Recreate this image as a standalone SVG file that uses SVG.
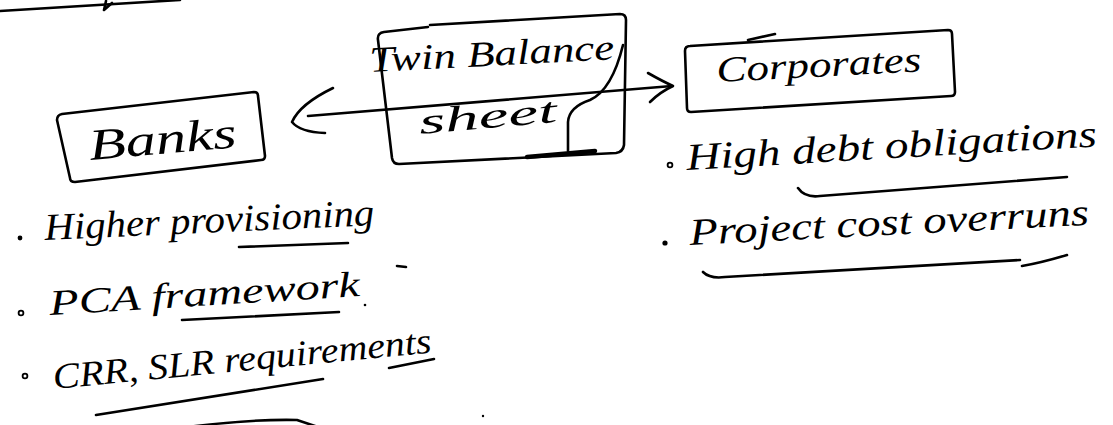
<svg xmlns="http://www.w3.org/2000/svg" width="1113" height="425" viewBox="0 0 1113 425">
  <style>
    .ink { fill: none; stroke: #000; stroke-width: 2.6; stroke-linecap: round; stroke-linejoin: round; }
    .heavy { stroke-width: 4.5; }
    .hand { font-family: "Liberation Serif", "DejaVu Serif", serif; font-style: italic; fill: #000; }
    .dot { fill: #000; }
    .ring { fill: none; stroke: #000; stroke-width: 1.8; }
  </style>
  <rect width="1113" height="425" fill="#fff"/>

  <!-- stroke cut off at the top edge -->
  <g id="top-stroke">
    <path class="ink" d="M0,11 L180,0"/>
    <path class="ink" d="M106,1 L104,10 L112,3"/>
  </g>

  <!-- connectors: double-headed arrow through the centre box -->
  <g id="connectors">
    <path class="ink" d="M308,116 L672,86"/>
    <path class="ink" d="M333,88 Q300,104 292,122 Q300,132 325,133"/>
    <path class="ink" d="M648,73 Q662,81 673,86 Q660,92 650,102"/>
  </g>

  <g id="banks">
    <path class="ink" d="M62,114 L254,92 Q258,92 258,96 L265,156 Q265,160 261,160 L75,182 Q70,182 70,178 L57,120 Q57,115 62,114 Z"/>
    <text class="hand" x="90" y="160" font-size="44" textLength="148" lengthAdjust="spacingAndGlyphs" transform="rotate(-5 90 160)">Banks</text>
  </g>

  <g id="twin-balance-sheet">
    <path class="ink" d="M384,32 L428,27 M430,25 L620,14 Q626,14 626,20 L624,145 Q623,152 616,153 L399,164 Q393,164 392,158 L378,40 Q377,33 384,32"/>
    <path class="ink heavy" d="M527,157 L595,151"/>
    <path class="ink" d="M568,151 L568,122 Q569,107 590,100 Q612,90 623,45"/>
    <text class="hand" x="370" y="72" font-size="36" textLength="245" lengthAdjust="spacingAndGlyphs" transform="rotate(-3 370 72)">Twin Balance</text>
    <text class="hand" x="420" y="134" font-size="36" textLength="138" lengthAdjust="spacingAndGlyphs" transform="rotate(-5 420 134)">sheet</text>
  </g>

  <g id="corporates">
    <path class="ink" d="M690,46 L948,30 Q952,30 952,34 L955,92 Q955,96 951,96 L691,112 Q687,112 687,108 L685,51 Q685,46 690,46 Z"/>
    <path class="ink" d="M748,40 L775,34"/>
    <text class="hand" x="717" y="82" font-size="36" textLength="205" lengthAdjust="spacingAndGlyphs" transform="rotate(-3 717 82)">Corporates</text>
  </g>

  <g id="banks-points">
    <circle class="dot" cx="20" cy="238" r="2.4"/>
    <text class="hand" x="45" y="240" font-size="38" textLength="330" lengthAdjust="spacingAndGlyphs" transform="rotate(-2.6 45 240)">Higher provisioning</text>
    <path class="ink" d="M239,247 L348,243"/>

    <circle class="ring" cx="21" cy="313" r="2.4"/>
    <text class="hand" x="50" y="315" font-size="36" textLength="311" lengthAdjust="spacingAndGlyphs" transform="rotate(-3.5 50 315)">PCA framework</text>
    <path class="ink" d="M182,320 L339,312"/>
    <circle class="dot" cx="365" cy="305" r="1.3"/>
    <path class="ink" d="M397,266 L406,267" stroke-width="1.5"/>

    <circle class="ring" cx="25" cy="376" r="2.4"/>
    <text class="hand" x="54" y="389" font-size="36" textLength="380" lengthAdjust="spacingAndGlyphs" transform="rotate(-5.5 54 389)">CRR, SLR requirements</text>
    <path class="ink" d="M96,415 Q200,398 323,379"/>
    <path class="ink" d="M389,368 L434,359"/>

    <path class="ink" d="M188,427 Q250,419 297,420 L318,427"/>
    <circle class="dot" cx="483" cy="416" r="1.2"/>
  </g>

  <g id="corporates-points">
    <circle class="ring" cx="670" cy="165" r="2.4"/>
    <text class="hand" x="687" y="170" font-size="38" textLength="411" lengthAdjust="spacingAndGlyphs" transform="rotate(-3.3 687 170)">High debt obligations</text>
    <path class="ink" d="M798,188 Q805,198 820,196 L1067,177"/>

    <circle class="dot" cx="665" cy="243" r="2.6"/>
    <text class="hand" x="690" y="245" font-size="38" textLength="400" lengthAdjust="spacingAndGlyphs" transform="rotate(-2.9 690 245)">Project cost overruns</text>
    <path class="ink" d="M703,272 Q710,279 725,277 L1020,260"/>
    <path class="ink" d="M1022,266 Q1040,263 1067,255"/>
  </g>
</svg>
